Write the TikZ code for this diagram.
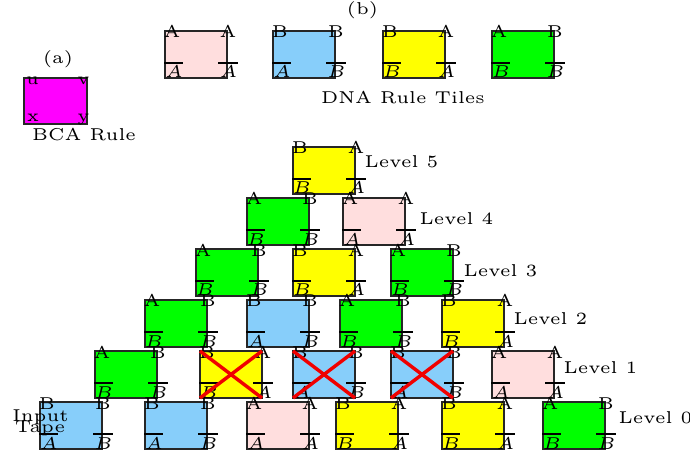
\documentclass[tikz,border=0pt]{standalone}
\usetikzlibrary{calc}
\definecolor{pinkc}{RGB}{255,222,222}
\definecolor{bluec}{RGB}{135,206,250}
\definecolor{yellowc}{RGB}{255,255,0}
\definecolor{greenc}{RGB}{0,255,0}
\definecolor{magentac}{RGB}{255,0,255}
\definecolor{redc}{RGB}{240,0,0}
\def\pxu{0.291pt}
\tikzset{
  tilebox/.style={draw=black!85, line width=0.4pt, minimum width=62*\pxu, minimum height=47*\pxu, inner sep=0pt, outer sep=0pt, anchor=north west},
  lbl/.style={font=\tiny, inner sep=0pt, anchor=base},
  txt/.style={font=\tiny, inner sep=0pt, anchor=base},
  lvl/.style={font=\tiny, inner sep=0pt, anchor=base west},
  barline/.style={draw=black, line width=0.45pt},
  crossline/.style={draw=redc, line width=1pt}
}
\newcommand\dnatile[8]{%
  \node[tilebox, fill=#4] (#1) at (#2,#3) {};
  \node[lbl] (#1-tl) at ($(#1.north west)+(7,7)$) {#5};
  \node[lbl] (#1-tr) at ($(#1.north east)+(1,7)$) {#6};
  \node[lbl] (#1-bl) at ($(#1.south west)+(9,0)$) {$#7$};
  \node[lbl] (#1-br) at ($(#1.south east)+(1.5,0)$) {$#8$};
  \coordinate (#1-b1) at ($(#1.south west)+(-1,-15)$);
  \coordinate (#1-b2) at ($(#1.south west)+(18,-15)$);
  \coordinate (#1-b3) at ($(#1.south east)+(-9,-15)$);
  \coordinate (#1-b4) at ($(#1.south east)+(11,-15)$);
  \draw[barline] (#1-b1) -- (#1-b2);
  \draw[barline] (#1-b3) -- (#1-b4);
}
\newcommand\tileP[3]{\dnatile{#1}{#2}{#3}{pinkc}{A}{A}{A}{A}}
\newcommand\tileB[3]{\dnatile{#1}{#2}{#3}{bluec}{B}{B}{A}{B}}
\newcommand\tileY[3]{\dnatile{#1}{#2}{#3}{yellowc}{B}{A}{B}{A}}
\newcommand\tileG[3]{\dnatile{#1}{#2}{#3}{greenc}{A}{B}{B}{B}}
\newcommand\crossout[1]{%
  \draw[crossline] (#1.north west) -- (#1.south east);
  \draw[crossline] (#1.south west) -- (#1.north east);
}
\begin{document}
\begin{tikzpicture}[x=\pxu, y=-\pxu]
\useasboundingbox (0,0) rectangle (690,455);
% (a) BCA rule
\node[txt] (alabel) at (58,64) {(a)};
\node[draw=black!85, line width=0.4pt, fill=magentac, minimum width=63*\pxu, minimum height=46*\pxu, inner sep=0pt, outer sep=0pt, anchor=north west] (bca) at (24,78) {};
\node[lbl] (bca-u) at ($(bca.north west)+(8.5,7)$) {u};
\node[lbl] (bca-v) at ($(bca.north west)+(59.5,7)$) {v};
\node[lbl] (bca-x) at ($(bca.north west)+(9,44)$) {x};
\node[lbl] (bca-y) at ($(bca.north west)+(59.5,44)$) {y};
\node[txt] (bcarule) at (84,141) {BCA Rule};
% (b) DNA rule tiles
\node[txt] (blabel) at (362.5,15) {(b)};
\tileP{rp}{165}{31}
\tileB{rb}{273}{31}
\tileY{ry}{383}{31}
\tileG{rg}{492}{31}
\node[txt] (dnarule) at (403,104) {DNA Rule Tiles};
% Level 5
\tileY{l5a}{293}{147}
% Level 4
\tileG{l4a}{247}{198}
\tileP{l4b}{343}{198}
% Level 3
\tileG{l3a}{196}{249}
\tileY{l3b}{293}{249}
\tileG{l3c}{391}{249}
% Level 2
\tileG{l2a}{145}{300}
\tileB{l2b}{247}{300}
\tileG{l2c}{340}{300}
\tileY{l2d}{442}{300}
% Level 1
\tileG{l1a}{95}{351}
\tileY{l1b}{200}{351}
\tileB{l1c}{293}{351}
\tileB{l1d}{391}{351}
\tileP{l1e}{492}{351}
% Level 0
\tileB{l0a}{40}{402}
\tileB{l0b}{145}{402}
\tileP{l0c}{247}{402}
\tileY{l0d}{336}{402}
\tileY{l0e}{442}{402}
\tileG{l0f}{543}{402}
% crosses
\crossout{l1b}
\crossout{l1c}
\crossout{l1d}
% labels
\node[lvl] (lv5) at (364,168) {Level 5};
\node[lvl] (lv4) at (419,225) {Level 4};
\node[lvl] (lv3) at (463,276) {Level 3};
\node[lvl] (lv2) at (513,324) {Level 2};
\node[lvl] (lv1) at (563,373) {Level 1};
\node[lvl] (lv0) at (618,423) {Level 0};
\node[txt] (input) at (40.5,421) {Input};
\node[txt] (tape) at (40,432) {Tape};
\end{tikzpicture}
\end{document}
